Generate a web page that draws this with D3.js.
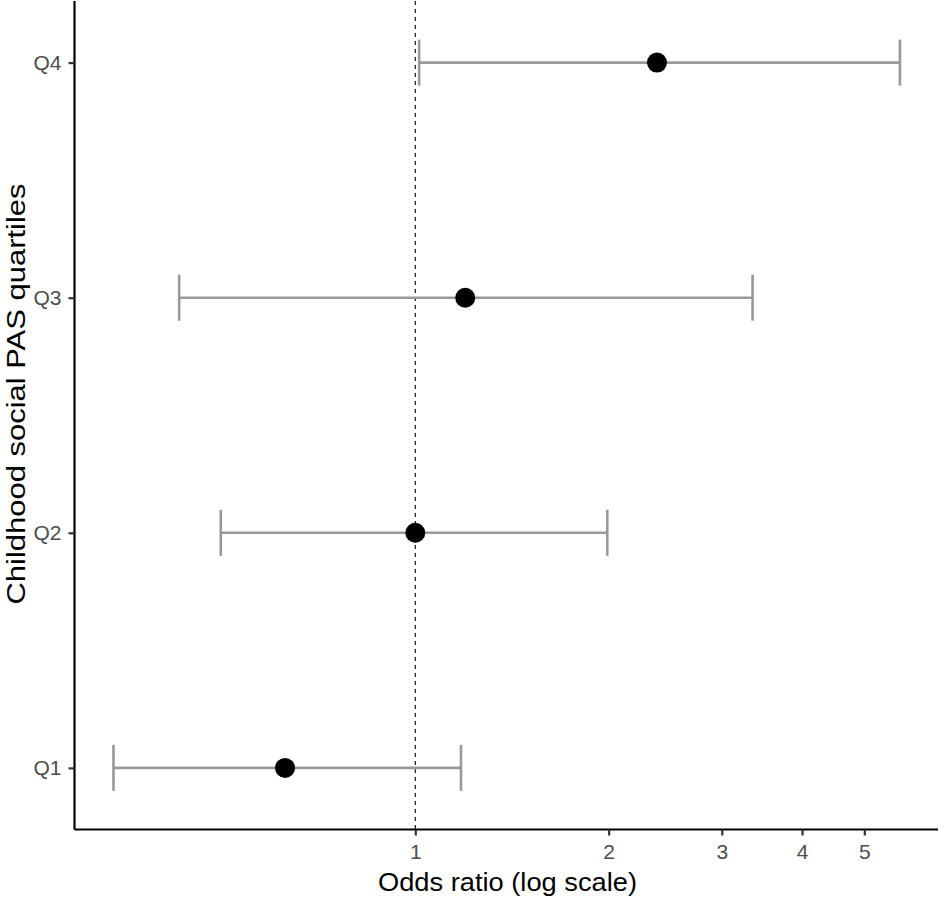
<!DOCTYPE html>
<html>
<head>
<meta charset="utf-8">
<script src="https://cdn.jsdelivr.net/npm/d3@7"></script>
<style>
  body { margin: 0; background: #fff; }
  svg { display: block; }
</style>
</head>
<body>
<svg id="chart" width="950" height="900"></svg>
<script>
const categories = ["Q1", "Q2", "Q3", "Q4"];
const oddsRatio = [0.627, 1.0, 1.196, 2.378];
const ciLower = [0.339, 0.498, 0.429, 1.014];
const ciUpper = [1.178, 1.99, 3.35, 5.68];
const xTicks = [1, 2, 3, 4, 5];
const xTitle = "Odds ratio (log scale)";
const yTitle = "Childhood social PAS quartiles";

(function () {
const svg = d3.select("#chart");
const pLeft = 74.5, pRight = 938, pTop = 1, pBottom = 829.5;

const x = d3.scaleLog().domain([0.2948, 6.511]).range([pLeft, pRight]);
const yIdx = d3.scaleLinear().domain([0.738, 4.262]).range([pBottom, pTop]);
const y = c => yIdx(categories.indexOf(c) + 1);

const data = categories.map((c, i) => ({c, or: oddsRatio[i], lo: ciLower[i], hi: ciUpper[i]}));

// reference line
svg.append("line")
  .attr("x1", x(1)).attr("x2", x(1))
  .attr("y1", pTop).attr("y2", pBottom)
  .attr("stroke", "#000").attr("stroke-width", 1.1)
  .attr("stroke-dasharray", "4,4");

// error bars
const eb = svg.append("g").attr("stroke", "#999999").attr("stroke-width", 2.6).attr("fill", "none");
eb.selectAll("line.h").data(data).join("line").attr("class", "h")
  .attr("x1", d => x(d.lo)).attr("x2", d => x(d.hi))
  .attr("y1", d => y(d.c)).attr("y2", d => y(d.c));
eb.selectAll("line.l").data(data).join("line").attr("class", "l")
  .attr("x1", d => x(d.lo)).attr("x2", d => x(d.lo))
  .attr("y1", d => y(d.c) - 23).attr("y2", d => y(d.c) + 23);
eb.selectAll("line.r").data(data).join("line").attr("class", "r")
  .attr("x1", d => x(d.hi)).attr("x2", d => x(d.hi))
  .attr("y1", d => y(d.c) - 23).attr("y2", d => y(d.c) + 23);

// points
svg.append("g").selectAll("circle").data(data).join("circle")
  .attr("cx", d => x(d.or)).attr("cy", d => y(d.c)).attr("r", 10)
  .attr("fill", "#000");

const font = "Liberation Sans, Arial, sans-serif";

// x axis
const xAxis = d3.axisBottom(x).tickValues(xTicks).tickFormat(d3.format("d")).tickSize(6).tickPadding(9);
const gx = svg.append("g").attr("transform", `translate(0,${pBottom})`).call(xAxis);
gx.select(".domain").attr("d", `M${pLeft},0H${pRight}`).attr("stroke", "#000").attr("stroke-width", 2.2);
gx.selectAll(".tick line").attr("stroke", "#333").attr("stroke-width", 2.2);
gx.selectAll(".tick text").attr("fill", "#4d4d4d").style("font-family", font).style("font-size", "21px");

// y axis
const yOrd = d3.scaleOrdinal().domain(categories).range(categories.map(c => y(c)));
const yAxis = d3.axisLeft(yOrd).tickSize(6).tickPadding(7);
const gy = svg.append("g").attr("transform", `translate(${pLeft},0)`).call(yAxis);
gy.select(".domain").attr("d", `M0,${pTop}V${pBottom}`).attr("stroke", "#000").attr("stroke-width", 2.2);
gy.selectAll(".tick line").attr("stroke", "#333").attr("stroke-width", 2.2);
gy.selectAll(".tick text").attr("fill", "#4d4d4d").style("font-family", font).style("font-size", "21px");

// titles
svg.append("text")
  .attr("x", 507.5).attr("y", 891)
  .attr("text-anchor", "middle")
  .attr("textLength", 259).attr("lengthAdjust", "spacingAndGlyphs")
  .style("font-family", font).style("font-size", "26px")
  .attr("fill", "#000").text(xTitle);

svg.append("text")
  .attr("transform", `translate(25,394) rotate(-90)`)
  .attr("text-anchor", "middle")
  .attr("textLength", 421).attr("lengthAdjust", "spacingAndGlyphs")
  .style("font-family", font).style("font-size", "25px")
  .attr("fill", "#000").text(yTitle);
})();
</script>
</body>
</html>
